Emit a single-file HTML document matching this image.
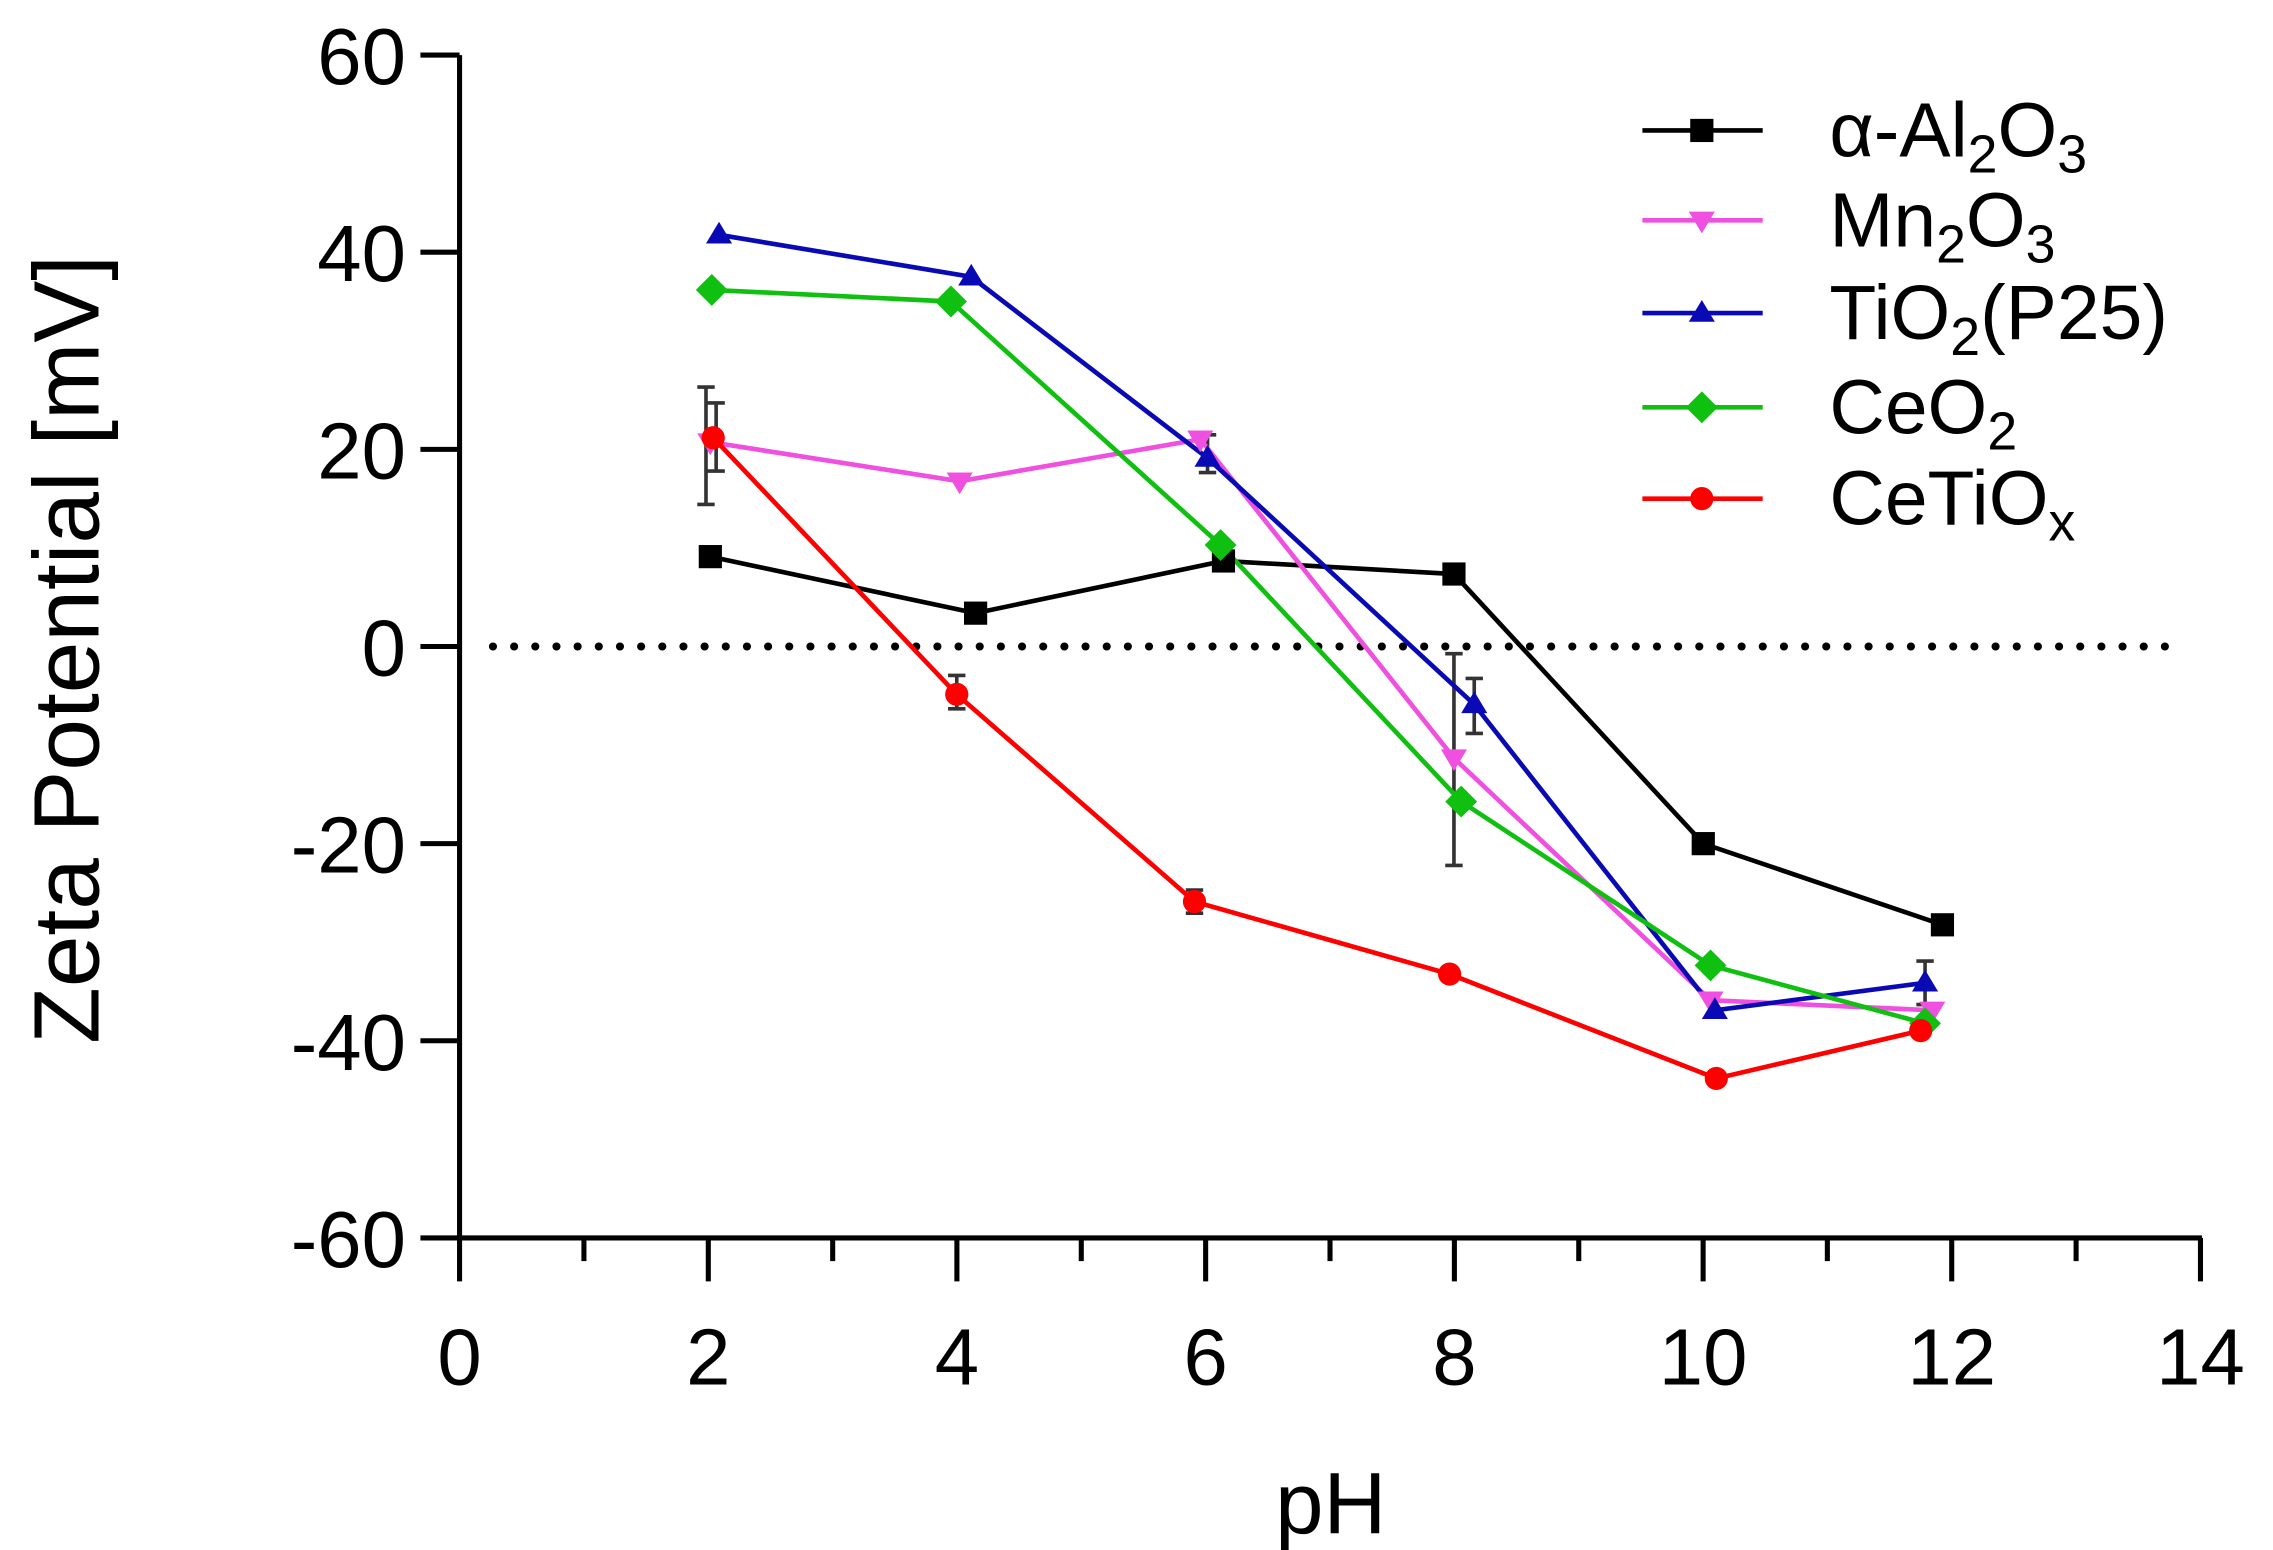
<!DOCTYPE html>
<html><head><meta charset="utf-8"><style>
html,body{margin:0;padding:0;background:#fff;}
svg{display:block;}
text{font-family:"Liberation Sans",Arial,sans-serif;fill:#000;}
</style></head><body>
<svg width="2273" height="1550" viewBox="0 0 1568 1069.3" xmlns="http://www.w3.org/2000/svg">
<rect width="1568" height="1070" fill="#fff"/>
<g stroke="#000" stroke-width="3.5" fill="none">
<line x1="317" y1="38" x2="317" y2="856"/>
<line x1="315" y1="854" x2="1519" y2="854"/>
<line x1="290" y1="38" x2="317" y2="38"/>
<line x1="290" y1="174" x2="317" y2="174"/>
<line x1="290" y1="310" x2="317" y2="310"/>
<line x1="290" y1="446" x2="317" y2="446"/>
<line x1="290" y1="582" x2="317" y2="582"/>
<line x1="290" y1="718" x2="317" y2="718"/>
<line x1="290" y1="854" x2="317" y2="854"/>
<line x1="317" y1="854" x2="317" y2="884"/>
<line x1="488.6" y1="854" x2="488.6" y2="884"/>
<line x1="660.1" y1="854" x2="660.1" y2="884"/>
<line x1="831.7" y1="854" x2="831.7" y2="884"/>
<line x1="1003.3" y1="854" x2="1003.3" y2="884"/>
<line x1="1174.9" y1="854" x2="1174.9" y2="884"/>
<line x1="1346.4" y1="854" x2="1346.4" y2="884"/>
<line x1="1518" y1="854" x2="1518" y2="884"/>
<line x1="402.8" y1="854" x2="402.8" y2="870"/>
<line x1="574.4" y1="854" x2="574.4" y2="870"/>
<line x1="745.9" y1="854" x2="745.9" y2="870"/>
<line x1="917.5" y1="854" x2="917.5" y2="870"/>
<line x1="1089.1" y1="854" x2="1089.1" y2="870"/>
<line x1="1260.6" y1="854" x2="1260.6" y2="870"/>
<line x1="1432.2" y1="854" x2="1432.2" y2="870"/>
</g>
<line x1="340" y1="446" x2="1505" y2="446" stroke="#000" stroke-width="5.5" stroke-dasharray="0.1 14.5" stroke-linecap="round"/>
<g font-size="55" text-anchor="end">
<text x="280" y="58">60</text><text x="280" y="194">40</text><text x="280" y="330">20</text>
<text x="280" y="466">0</text><text x="280" y="602">-20</text><text x="280" y="738">-40</text><text x="280" y="874">-60</text>
</g>
<g font-size="55" text-anchor="middle">
<text x="317" y="955">0</text><text x="488.6" y="955">2</text><text x="660.1" y="955">4</text><text x="831.7" y="955">6</text>
<text x="1003.3" y="955">8</text><text x="1174.9" y="955">10</text><text x="1346.4" y="955">12</text><text x="1518" y="955">14</text>
</g>
<text x="918" y="1058" font-size="60" text-anchor="middle">pH</text>
<text transform="translate(68,448) rotate(-90)" font-size="64" text-anchor="middle">Zeta Potential [mV]</text>
<g stroke="#333" stroke-width="2.5" fill="none">
<path d="M487 267V348M481 267H493M481 348H493"/>
<path d="M494 278V325M488 278H500M488 325H500"/>
<path d="M660 466V489M654 466H666M654 489H666"/>
<path d="M824 614V630M818 614H830M818 630H830"/>
<path d="M833 300V326M827 300H839M827 326H839"/>
<path d="M1003 451V597M997 451H1009M997 597H1009"/>
<path d="M1017 468V506M1011 468H1023M1011 506H1023"/>
<path d="M1328 663V693M1322 663H1334M1322 693H1334"/>
</g>
<g fill="none" stroke-width="3.2">
<polyline stroke="#000" points="490,384 673,423 844,387 1003,396 1175,582 1340,638"/>
<polyline stroke="#f050e0" points="490,305 662,332 828,303 1003,523 1180,690 1333,697"/>
<polyline stroke="#0a0ab4" points="496,162 670,191 833,316 1017,486 1183,697 1328,678"/>
<polyline stroke="#10c010" points="491,200 656,208 842,376 1008,553 1180,666 1328,706"/>
<polyline stroke="#ff0000" points="492,302 660,479 824,622 1000,672 1184,744 1325,711"/>
</g>
<g fill="#000">
<rect x="482" y="376" width="16" height="16"/><rect x="665" y="415" width="16" height="16"/><rect x="836" y="379" width="16" height="16"/>
<rect x="995" y="388" width="16" height="16"/><rect x="1167" y="574" width="16" height="16"/><rect x="1332" y="630" width="16" height="16"/>
</g>
<g fill="#f050e0">
<path d="M481,299H499L490,314Z"/><path d="M653,326H671L662,341Z"/><path d="M819,297H837L828,312Z"/>
<path d="M994,517H1012L1003,532Z"/><path d="M1171,684H1189L1180,699Z"/><path d="M1324,691H1342L1333,706Z"/>
</g>
<g fill="#0a0ab4">
<path d="M487,168H505L496,153Z"/><path d="M661,197H679L670,182Z"/><path d="M824,322H842L833,307Z"/>
<path d="M1008,492H1026L1017,477Z"/><path d="M1174,703H1192L1183,688Z"/><path d="M1319,684H1337L1328,669Z"/>
</g>
<g fill="#10c010">
<path d="M491,189L502,200L491,211L480,200Z"/><path d="M656,197L667,208L656,219L645,208Z"/><path d="M842,365L853,376L842,387L831,376Z"/>
<path d="M1008,542L1019,553L1008,564L997,553Z"/><path d="M1180,655L1191,666L1180,677L1169,666Z"/><path d="M1328,695L1339,706L1328,717L1317,706Z"/>
</g>
<g fill="#ff0000">
<circle cx="492" cy="302" r="8"/><circle cx="660" cy="479" r="8"/><circle cx="824" cy="622" r="8"/>
<circle cx="1000" cy="672" r="8"/><circle cx="1184" cy="744" r="8"/><circle cx="1325" cy="711" r="8"/>
</g>
<g stroke-width="3.2">
<line x1="1133" y1="90" x2="1216" y2="90" stroke="#000"/>
<line x1="1133" y1="152" x2="1216" y2="152" stroke="#f050e0"/>
<line x1="1133" y1="216" x2="1216" y2="216" stroke="#0a0ab4"/>
<line x1="1133" y1="281" x2="1216" y2="281" stroke="#10c010"/>
<line x1="1133" y1="344" x2="1216" y2="344" stroke="#ff0000"/>
</g>
<rect x="1166" y="82" width="16" height="16" fill="#000"/>
<path d="M1165,146H1183L1174,161Z" fill="#f050e0"/>
<path d="M1165,222H1183L1174,207Z" fill="#0a0ab4"/>
<path d="M1174,270L1185,281L1174,292L1163,281Z" fill="#10c010"/>
<circle cx="1174" cy="344" r="8" fill="#ff0000"/>
<g font-size="53">
<text x="1262" y="108">α-Al<tspan font-size="37" dy="11">2</tspan><tspan dy="-11">O</tspan><tspan font-size="37" dy="11">3</tspan></text>
<text x="1262" y="170">Mn<tspan font-size="37" dy="11">2</tspan><tspan dy="-11">O</tspan><tspan font-size="37" dy="11">3</tspan></text>
<text x="1262" y="234">TiO<tspan font-size="37" dy="11">2</tspan><tspan dy="-11">(P25)</tspan></text>
<text x="1262" y="299">CeO<tspan font-size="37" dy="11">2</tspan></text>
<text x="1262" y="362">CeTiO<tspan font-size="37" dy="11">x</tspan></text>
</g>
</svg>
</body></html>
